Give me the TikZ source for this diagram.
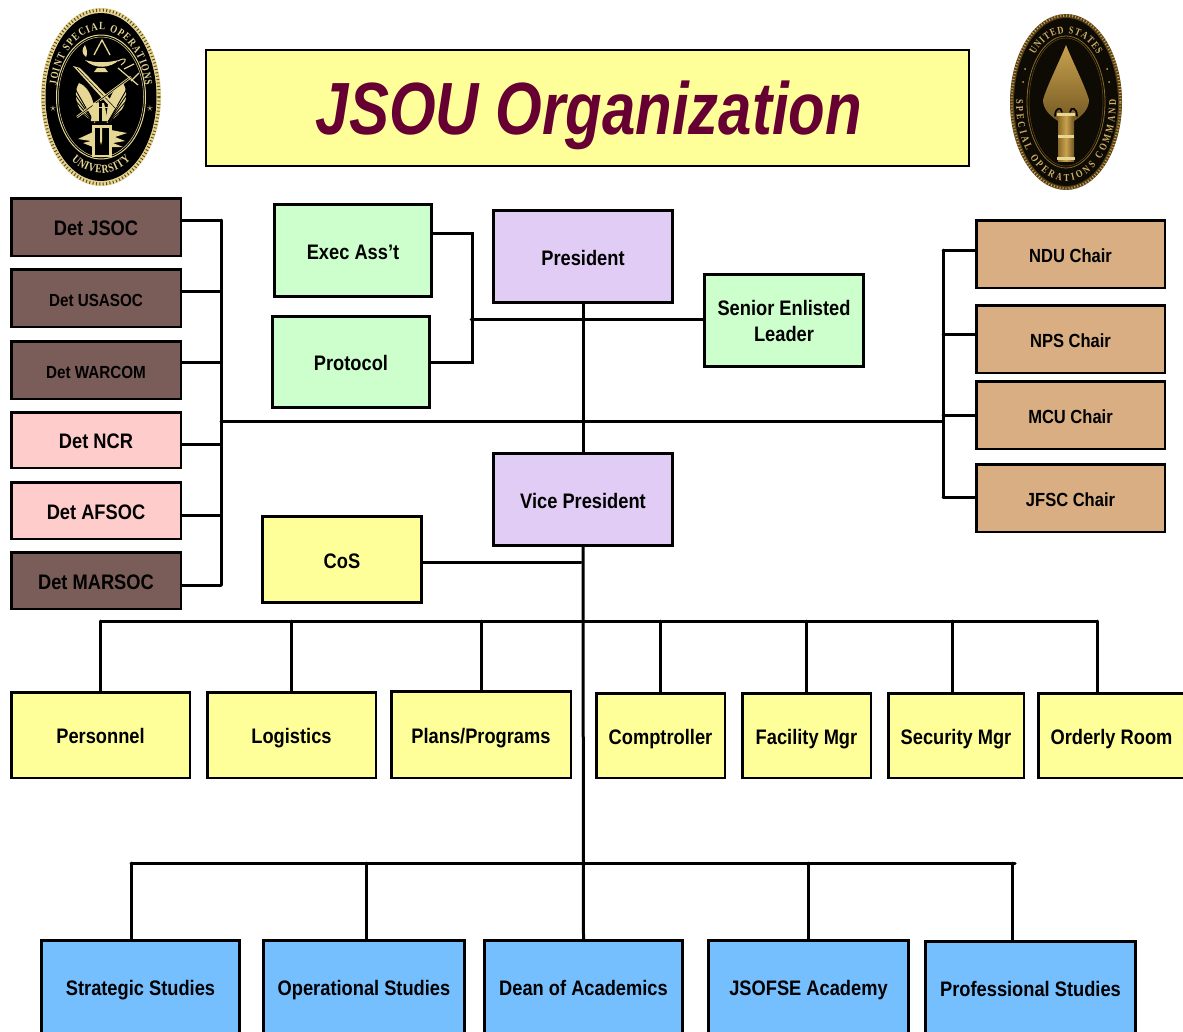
\documentclass[tikz,border=0pt]{standalone}
\usepackage{fontspec}
\usetikzlibrary{decorations.text,calc}
\setmainfont{Liberation Sans}
\newfontfamily\boxf[FakeStretch=0.87]{Liberation Sans}
\newfontfamily\titlef[FakeStretch=0.81]{Liberation Sans}
\newfontfamily\sealf[FakeStretch=0.8]{Liberation Serif}
\definecolor{detbrown}{HTML}{7A5C58}
\definecolor{detpink}{HTML}{FFCCCC}
\definecolor{ylw}{HTML}{FFFF99}
\definecolor{grn}{HTML}{CCFFCC}
\definecolor{purp}{HTML}{E0CCF5}
\definecolor{tan1}{HTML}{D9AE82}
\definecolor{blu}{HTML}{75BFFF}
\definecolor{maroon1}{HTML}{660033}
\definecolor{gold1}{HTML}{E6D794}
\definecolor{gold2}{HTML}{8A6A2A}
\definecolor{gold3}{HTML}{C9A24E}
\tikzset{
  basebox/.style={draw=black,line width=2.5pt,outer sep=0pt,inner sep=0pt,align=center,font=\boxf\bfseries\fontsize{21}{26}\selectfont},
  orgbox/.style={basebox,text height=20.5pt,text depth=3pt},
  thickbox/.style={orgbox,line width=3.3pt},
  thinbox/.style={basebox,line width=2.2pt},
  small/.style={text height=19pt,font=\boxf\bfseries\fontsize{17.5}{22}\selectfont},
  chair/.style={text height=19pt,font=\boxf\bfseries\fontsize{19}{24}\selectfont},
  link/.style={draw=black,line width=3pt,line cap=round},
}
% name, x1,y1,x2,y2, style, text
\newcommand{\bx}[7]{\node[#6,minimum width={(#4)-(#2)-2.5},minimum height={(#5)-(#3)-2.5}] (#1) at ({((#2)+(#4))/2},{((#3)+(#5))/2}) {#7};}
\pgfdeclarelayer{conn}
\pgfsetlayers{conn,main}
\begin{document}
\begin{tikzpicture}[x=1pt,y=-1pt]
\useasboundingbox (0,0) rectangle (1183,1031);
\begin{pgfonlayer}{conn}
\fill[white] (0,0) rectangle (1183,1031);
\end{pgfonlayer}
\clip (0,0) rectangle (1183,1031);

% Title
\bx{title}{205}{49}{970}{167}{thinbox,fill=ylw}{}
\node[text=maroon1,font=\titlef\bfseries\itshape\fontsize{74}{80}\selectfont,inner sep=0pt] (titletext) at (589,115) {JSOU Organization};

% Left seal
\begin{scope}[shift={(101,97)},y=1pt]
  \fill[gold1] (0,0) ellipse (60pt and 89pt);
  \draw[gold2!70!black,line width=3pt,dash pattern=on 1pt off 2.4pt] (0,0) ellipse (58pt and 87pt);
  \fill[black] (0,0) ellipse (55.5pt and 84pt);
  \draw[gold1,line width=1pt] (0,0) ellipse (44.5pt and 62pt);
  \draw[gold1,line width=.5pt] (0,0) ellipse (42.5pt and 60pt);
  \path[decorate,decoration={text along path,text align={left indent=0pt,right indent=9.3pt,fit to path},
     text={|\sealf\bfseries\fontsize{11}{12}\selectfont\color{gold1}|JOINT SPECIAL OPERATIONS}}]
     (170:45pt and 67pt) arc (170:2:45pt and 67pt);
  \path[decorate,decoration={text along path,text align={left indent=0pt,right indent=8.7pt,fit to path},
     text={|\sealf\bfseries\fontsize{12}{12}\selectfont\color{gold1}|UNIVERSITY}}]
     (236:53pt and 76pt) arc (236:312:53pt and 76pt);
  \node[text=gold1,font=\fontsize{13}{13}\selectfont,inner sep=0pt] (starl) at (-48,-12) {$\star$};
  \node[text=gold1,font=\fontsize{13}{13}\selectfont,inner sep=0pt] (starr) at (49,-12) {$\star$};
  % triangle and lamp
  \draw[gold1,line width=1.3pt] (-7,42) -- (1,57) -- (9,42);
  \fill[gold1] (-16,37) .. controls (-6,34) and (6,34) .. (18,37) .. controls (10,29) and (-6,27) .. (-16,37);
  \fill[gold1] (-4,29) -- (4,29) -- (7,25) -- (-7,25) -- cycle;
  \fill[gold1] (-16,52) .. controls (-14,47) and (-13,44) .. (-15,40) .. controls (-20,44) and (-19,48) .. (-16,52);
  \draw[gold1,line width=1pt] (17,36) .. controls (24,40) and (28,38) .. (20,32);
  % wings
  \foreach \s in {-1,1}{
    \fill[gold1] (\s*6,-26) .. controls (\s*22,-18) and (\s*30,0) .. (\s*22,14)
       .. controls (\s*10,10) and (\s*4,-12) .. (\s*6,-26);
    \foreach \t in {-14,-8,-2,4,10}{
      \draw[black,line width=.9pt] (\s*7,-25) -- (\s*27,\t);
    }
  }
  % sword and trident
  \fill[gold1] (-28,31) -- (-21,29) -- (16,-9) -- (12,-13) -- cycle;
  \draw[black,line width=.5pt] (-24,29) -- (14,-11);
  \draw[gold1,line width=2.4pt] (-24,-20) -- (30,20);
  \draw[black,line width=.6pt] (-24,-20) -- (30,20);
  \draw[gold1,line width=1.2pt] (17,29) -- (37,12) (23,28) -- (33,33) (30,16) -- (38,24);
  % hands
  \fill[gold1] (-8,-6) -- (3,-6) -- (7,-24) -- (-10,-24) -- cycle;
  \fill[black] (-2,-4) rectangle (1,-28);
  \draw[gold1,line width=.8pt] (-8,-10) -- (7,-10);
  % flames and torch
  \fill[gold1] (-23,-42) -- (-8,-35) -- (10,-33) -- (26,-36) -- (14,-40) -- (24,-44) -- (12,-46) -- (22,-50) -- (-8,-50) -- (-18,-46) -- (-10,-44) -- cycle;
  \fill[gold1] (-9,-28) rectangle (11,-60);
  \fill[black] (-6,-31) rectangle (8,-58);
  \fill[gold1] (-1,-28) -- (1,-28) -- (1,-44) -- (0,-48) -- (-1,-44) -- cycle;
\end{scope}

% Right seal
\begin{scope}[shift={(1066,102)},y=1pt]
  \fill[gold2!60!black] (0,0) ellipse (56pt and 88pt);
  \draw[gold3,line width=2.4pt,dash pattern=on 1pt off 2pt] (0,0) ellipse (54.5pt and 86.5pt);
  \fill[black!90!gold2] (0,0) ellipse (52pt and 84pt);
  \draw[gold2,line width=.8pt] (0,0) ellipse (39pt and 66pt);
  \draw[gold2!70!black,line width=.5pt] (0,0) ellipse (37pt and 64pt);
  \path[decorate,decoration={text along path,text align={left indent=0pt,right indent=8.4pt,fit to path},
     text={|\sealf\bfseries\fontsize{10.5}{11}\selectfont\color{gold3!85!white}|UNITED STATES}}]
     (137:43pt and 69pt) arc (137:35:43pt and 69pt);
  \path[decorate,decoration={text along path,text align={left indent=0pt,right indent=11pt,fit to path},
     text={|\sealf\bfseries\fontsize{10.5}{11}\selectfont\color{gold3!85!white}|SPECIAL OPERATIONS COMMAND}}]
     (178:50pt and 79pt) arc (178:370:50pt and 79pt);
  \fill[gold3] (-41,33) circle (1pt) (41,33) circle (1pt) (-43,20) circle (1pt) (43,20) circle (1pt);
  \shade[top color=gold3,bottom color=gold2!85!black]
     (0,57) .. controls (5,44) and (20,14) .. (23,2) .. controls (23,-7) and (16,-14) .. (8,-19)
     -- (-8,-19) .. controls (-16,-14) and (-23,-7) .. (-23,2) .. controls (-20,14) and (-5,44) .. (0,57) -- cycle;
  \draw[black,line width=1.6pt,line cap=round] (-11,-14) .. controls (-11,-6) and (-5,-4) .. (-4,-10);
  \draw[black,line width=1.6pt,line cap=round] (11,-14) .. controls (11,-6) and (5,-4) .. (4,-10);
  \shade[left color=gold2,right color=gold2!80!black,middle color=gold3] (-8,-12) rectangle (8,-59);
  \fill[gold1] (-9,-11) rectangle (9,-14);
  \fill[gold1] (-8,-33) rectangle (8,-36);
  \fill[gold1] (-9,-55) rectangle (9,-58);
\end{scope}

% Detachments
\bx{djsoc}{10}{197}{182}{257}{orgbox,fill=detbrown}{Det JSOC}
\bx{dusasoc}{10}{268}{182}{328}{orgbox,fill=detbrown,small}{Det USASOC}
\bx{dwarcom}{10}{340}{182}{400}{orgbox,fill=detbrown,small}{Det WARCOM}
\bx{dncr}{10}{411}{182}{469}{orgbox,fill=detpink}{Det NCR}
\bx{dafsoc}{10}{481}{182}{540}{orgbox,fill=detpink}{Det AFSOC}
\bx{dmarsoc}{10}{551}{182}{610}{orgbox,fill=detbrown}{Det MARSOC}

% Front office
\bx{exec}{273}{203}{433}{298}{thickbox,fill=grn}{Exec Ass’t}
\bx{protocol}{271}{315}{431}{409}{thickbox,fill=grn}{Protocol}
\bx{senior}{703}{273}{865}{368}{basebox,line width=3.3pt,fill=grn}{Senior Enlisted\\Leader}
\bx{pres}{492}{209}{674}{304}{thickbox,fill=purp}{President}
\bx{vp}{492}{452}{674}{547}{thickbox,fill=purp}{Vice President}
\bx{cos}{261}{515}{423}{604}{thickbox,fill=ylw}{CoS}

% Chairs
\bx{ndu}{975}{219}{1166}{289}{orgbox,fill=tan1,chair}{NDU Chair}
\bx{nps}{975}{304}{1166}{374}{orgbox,fill=tan1,chair}{NPS Chair}
\bx{mcu}{975}{380}{1166}{450}{orgbox,fill=tan1,chair}{MCU Chair}
\bx{jfsc}{975}{463}{1166}{533}{orgbox,fill=tan1,chair}{JFSC Chair}

% Staff row
\bx{pers}{10}{691}{191}{779}{orgbox,fill=ylw}{Personnel}
\bx{log}{206}{691}{377}{779}{orgbox,fill=ylw}{Logistics}
\bx{plans}{390}{690}{572}{779}{orgbox,fill=ylw}{Plans/Programs}
\bx{compt}{595}{692}{726}{779}{orgbox,fill=ylw}{Comptroller}
\bx{fac}{741}{692}{872}{779}{orgbox,fill=ylw}{Facility Mgr}
\bx{sec}{887}{692}{1025}{779}{orgbox,fill=ylw}{Security Mgr}
\bx{ord}{1037}{692}{1186}{779}{orgbox,fill=ylw}{Orderly Room}

% Academic row
\bx{strat}{40}{939}{241}{1035}{thickbox,fill=blu}{Strategic Studies}
\bx{oper}{262}{939}{466}{1035}{thickbox,fill=blu}{Operational Studies}
\bx{dean}{483}{939}{684}{1035}{thickbox,fill=blu}{Dean of Academics}
\bx{jsofse}{707}{939}{910}{1035}{thickbox,fill=blu}{JSOFSE Academy}
\bx{prof}{924}{940}{1137}{1036}{thickbox,fill=blu}{Professional Studies}

% Free ends of connectors
\coordinate (railLt) at (221,220);
\coordinate (railLb) at (221,585);
\coordinate (railRt) at (943,250);
\coordinate (railRb) at (943,497);
\coordinate (midL) at (221,421);
\coordinate (midR) at (943,421);
\coordinate (foT) at (472,233);
\coordinate (foB) at (472,362);
\coordinate (foM) at (471,319);
\coordinate (rowAL) at (101,621);
\coordinate (rowAR) at (1097,621);
\coordinate (rowBL) at (131,863);
\coordinate (rowBR) at (1015,863);
\coordinate (cosEnd) at (581,562);

% Connectors
\begin{pgfonlayer}{conn}
\draw[link] (pres.south) -- (vp.north);
\draw[link] (vp.south) -- (dean.north);
\draw[link] (midL) -- (midR);
\draw[link] (railLt) -- (railLb);
\draw[link] (railRt) -- (railRb);
\draw[link] (djsoc.east |- railLt) -- (railLt);
\draw[link] (dusasoc.east |- 0,291) -- (221,291);
\draw[link] (dwarcom.east |- 0,362) -- (221,362);
\draw[link] (dncr.east |- 0,444) -- (221,444);
\draw[link] (dafsoc.east |- 0,515) -- (221,515);
\draw[link] (dmarsoc.east |- railLb) -- (railLb);
\draw[link] (railRt) -- (ndu.west |- railRt);
\draw[link] (943,334) -- (nps.west |- 0,334);
\draw[link] (943,415) -- (mcu.west |- 0,415);
\draw[link] (railRb) -- (jfsc.west |- railRb);
\draw[link] (exec.east |- foT) -- (foT) -- (foB) -- (protocol.east |- foB);
\draw[link] (foM) -- (senior.west |- foM);
\draw[link] (cos.east |- cosEnd) -- (cosEnd);
\draw[link] (rowAL) -- (rowAR);
\draw[link] (rowBL) -- (rowBR);
\draw[link] (pers.north |- rowAL) -- (pers.north);
\draw[link] (log.north |- rowAL) -- (log.north);
\draw[link] (plans.north |- rowAL) -- (plans.north);
\draw[link] (compt.north |- rowAL) -- (compt.north);
\draw[link] (fac.north |- rowAL) -- (fac.north);
\draw[link] (952,621) -- (952,692);
\draw[link] (rowAR) -- (1097,692);
\draw[link] (rowBL) -- (131,939);
\draw[link] (366,863) -- (366,939);
\draw[link] (808,863) -- (808,939);
\draw[link] (1012,863) -- (1012,940);
\end{pgfonlayer}
\end{tikzpicture}
\end{document}
